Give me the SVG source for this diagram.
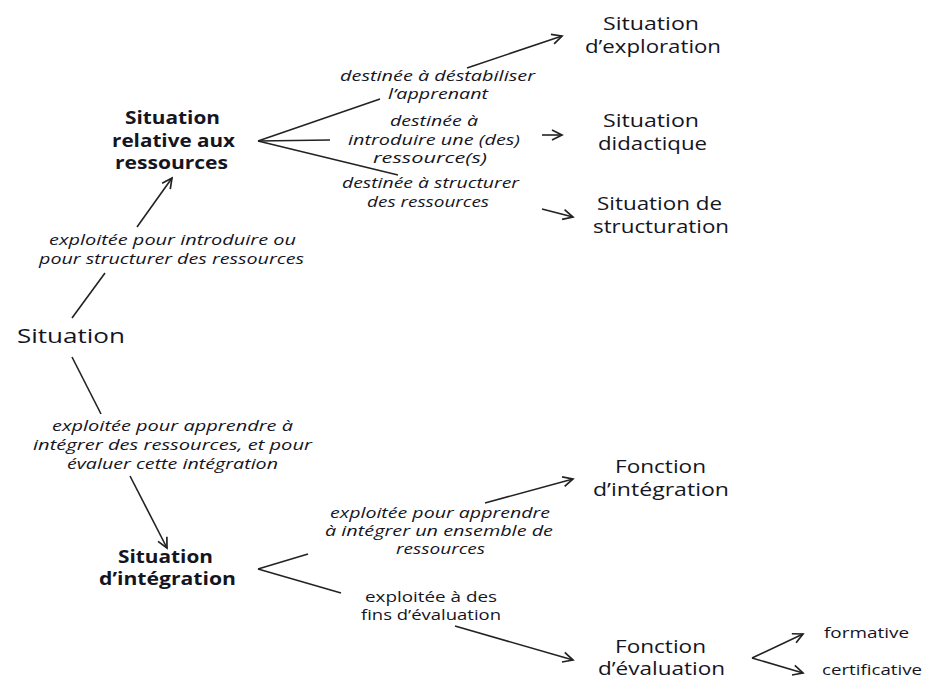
<svg xmlns="http://www.w3.org/2000/svg" width="925" height="680" viewBox="0 0 925 680">
  <style>
    text { font-family: "Open Sans", "Noto Sans", "DejaVu Sans", sans-serif; fill: #15151f; }
    .node { font-size: 17.5px; }
    .root { font-size: 19.5px; }
    .bold { font-size: 17.5px; font-weight: 700; }
    .lab { font-size: 14px; font-style: italic; }
    .labr { font-size: 14px; }
    .small { font-size: 14px; }
    .edge { stroke: #222; stroke-width: 1.6; fill: none; }
  </style>
  <defs>
    <marker id="arrow" markerUnits="userSpaceOnUse" markerWidth="14" markerHeight="14" viewBox="-12 -7 14 14" refX="0" refY="0" orient="auto">
      <path d="M-10,-5 L0,0 L-10,5" fill="none" stroke="#222" stroke-width="1.7" stroke-linejoin="miter"/>
    </marker>
  </defs>
  <rect width="925" height="680" fill="#fff"/>

  <!-- connectors -->
  <g id="connectors">
    <line class="edge" x1="105" y1="273" x2="72" y2="318"/>
    <line class="edge" x1="137" y1="227" x2="172" y2="178" marker-end="url(#arrow)"/>
    <line class="edge" x1="72" y1="357" x2="101" y2="414"/>
    <line class="edge" x1="130" y1="476" x2="167" y2="548" marker-end="url(#arrow)"/>
    <line class="edge" x1="258" y1="141" x2="380" y2="99"/>
    <line class="edge" x1="258" y1="141" x2="330" y2="140"/>
    <line class="edge" x1="258" y1="141" x2="398" y2="175"/>
    <line class="edge" x1="467" y1="68" x2="562" y2="36" marker-end="url(#arrow)"/>
    <line class="edge" x1="542" y1="135" x2="562" y2="135" marker-end="url(#arrow)"/>
    <line class="edge" x1="542" y1="209" x2="573" y2="217" marker-end="url(#arrow)"/>
    <line class="edge" x1="258" y1="569" x2="308" y2="554"/>
    <line class="edge" x1="258" y1="569" x2="341" y2="593"/>
    <line class="edge" x1="485" y1="503" x2="573" y2="479" marker-end="url(#arrow)"/>
    <line class="edge" x1="455" y1="626" x2="573" y2="660" marker-end="url(#arrow)"/>
    <line class="edge" x1="752" y1="658" x2="803" y2="634" marker-end="url(#arrow)"/>
    <line class="edge" x1="752" y1="658" x2="803" y2="673" marker-end="url(#arrow)"/>
  </g>

  <!-- edge labels -->
  <g id="labels">
    <text class="lab" x="49" y="245" textLength="247" lengthAdjust="spacingAndGlyphs">exploitée pour introduire ou</text>
    <text class="lab" x="39" y="264" textLength="265" lengthAdjust="spacingAndGlyphs">pour structurer des ressources</text>

    <text class="lab" x="340" y="81" textLength="195" lengthAdjust="spacingAndGlyphs">destinée à déstabiliser</text>
    <text class="lab" x="388" y="99" textLength="100" lengthAdjust="spacingAndGlyphs">l’apprenant</text>

    <text class="lab" x="390" y="126" textLength="88" lengthAdjust="spacingAndGlyphs">destinée à</text>
    <text class="lab" x="348" y="145" textLength="172" lengthAdjust="spacingAndGlyphs">introduire une (des)</text>
    <text class="lab" x="373" y="163" textLength="114" lengthAdjust="spacingAndGlyphs">ressource(s)</text>

    <text class="lab" x="342" y="188" textLength="177" lengthAdjust="spacingAndGlyphs">destinée à structurer</text>
    <text class="lab" x="367" y="207" textLength="122" lengthAdjust="spacingAndGlyphs">des ressources</text>

    <text class="lab" x="52" y="431" textLength="241" lengthAdjust="spacingAndGlyphs">exploitée pour apprendre à</text>
    <text class="lab" x="33" y="450" textLength="279" lengthAdjust="spacingAndGlyphs">intégrer des ressources, et pour</text>
    <text class="lab" x="67" y="469" textLength="211" lengthAdjust="spacingAndGlyphs">évaluer cette intégration</text>

    <text class="lab" x="330" y="518" textLength="220" lengthAdjust="spacingAndGlyphs">exploitée pour apprendre</text>
    <text class="lab" x="325" y="536" textLength="228" lengthAdjust="spacingAndGlyphs">à intégrer un ensemble de</text>
    <text class="lab" x="396" y="554" textLength="89" lengthAdjust="spacingAndGlyphs">ressources</text>

    <text class="labr" x="365" y="602" textLength="132" lengthAdjust="spacingAndGlyphs">exploitée à des</text>
    <text class="labr" x="361" y="620" textLength="140" lengthAdjust="spacingAndGlyphs">fins d’évaluation</text>
  </g>

  <!-- nodes -->
  <g id="situation">
    <text class="root" x="17" y="343" textLength="108" lengthAdjust="spacingAndGlyphs">Situation</text>
  </g>
  <g id="situation-ressources">
    <text class="bold" x="125" y="124" textLength="95" lengthAdjust="spacingAndGlyphs">Situation</text>
    <text class="bold" x="112" y="147" textLength="123" lengthAdjust="spacingAndGlyphs">relative aux</text>
    <text class="bold" x="115" y="169" textLength="113" lengthAdjust="spacingAndGlyphs">ressources</text>
  </g>
  <g id="situation-integration">
    <text class="bold" x="118" y="563" textLength="95" lengthAdjust="spacingAndGlyphs">Situation</text>
    <text class="bold" x="99" y="585" textLength="137" lengthAdjust="spacingAndGlyphs">d’intégration</text>
  </g>
  <g id="situation-exploration">
    <text class="node" x="603" y="30" textLength="96" lengthAdjust="spacingAndGlyphs">Situation</text>
    <text class="node" x="585" y="53" textLength="136" lengthAdjust="spacingAndGlyphs">d’exploration</text>
  </g>
  <g id="situation-didactique">
    <text class="node" x="603" y="127" textLength="96" lengthAdjust="spacingAndGlyphs">Situation</text>
    <text class="node" x="598" y="150" textLength="109" lengthAdjust="spacingAndGlyphs">didactique</text>
  </g>
  <g id="situation-structuration">
    <text class="node" x="597" y="210" textLength="125" lengthAdjust="spacingAndGlyphs">Situation de</text>
    <text class="node" x="593" y="233" textLength="136" lengthAdjust="spacingAndGlyphs">structuration</text>
  </g>
  <g id="fonction-integration">
    <text class="node" x="615" y="473" textLength="91" lengthAdjust="spacingAndGlyphs">Fonction</text>
    <text class="node" x="593" y="496" textLength="136" lengthAdjust="spacingAndGlyphs">d’intégration</text>
  </g>
  <g id="fonction-evaluation">
    <text class="node" x="615" y="653" textLength="91" lengthAdjust="spacingAndGlyphs">Fonction</text>
    <text class="node" x="598" y="675" textLength="127" lengthAdjust="spacingAndGlyphs">d’évaluation</text>
  </g>
  <g id="formative">
    <text class="small" x="824" y="638" textLength="85" lengthAdjust="spacingAndGlyphs">formative</text>
  </g>
  <g id="certificative">
    <text class="small" x="822" y="675" textLength="100" lengthAdjust="spacingAndGlyphs">certificative</text>
  </g>
</svg>
